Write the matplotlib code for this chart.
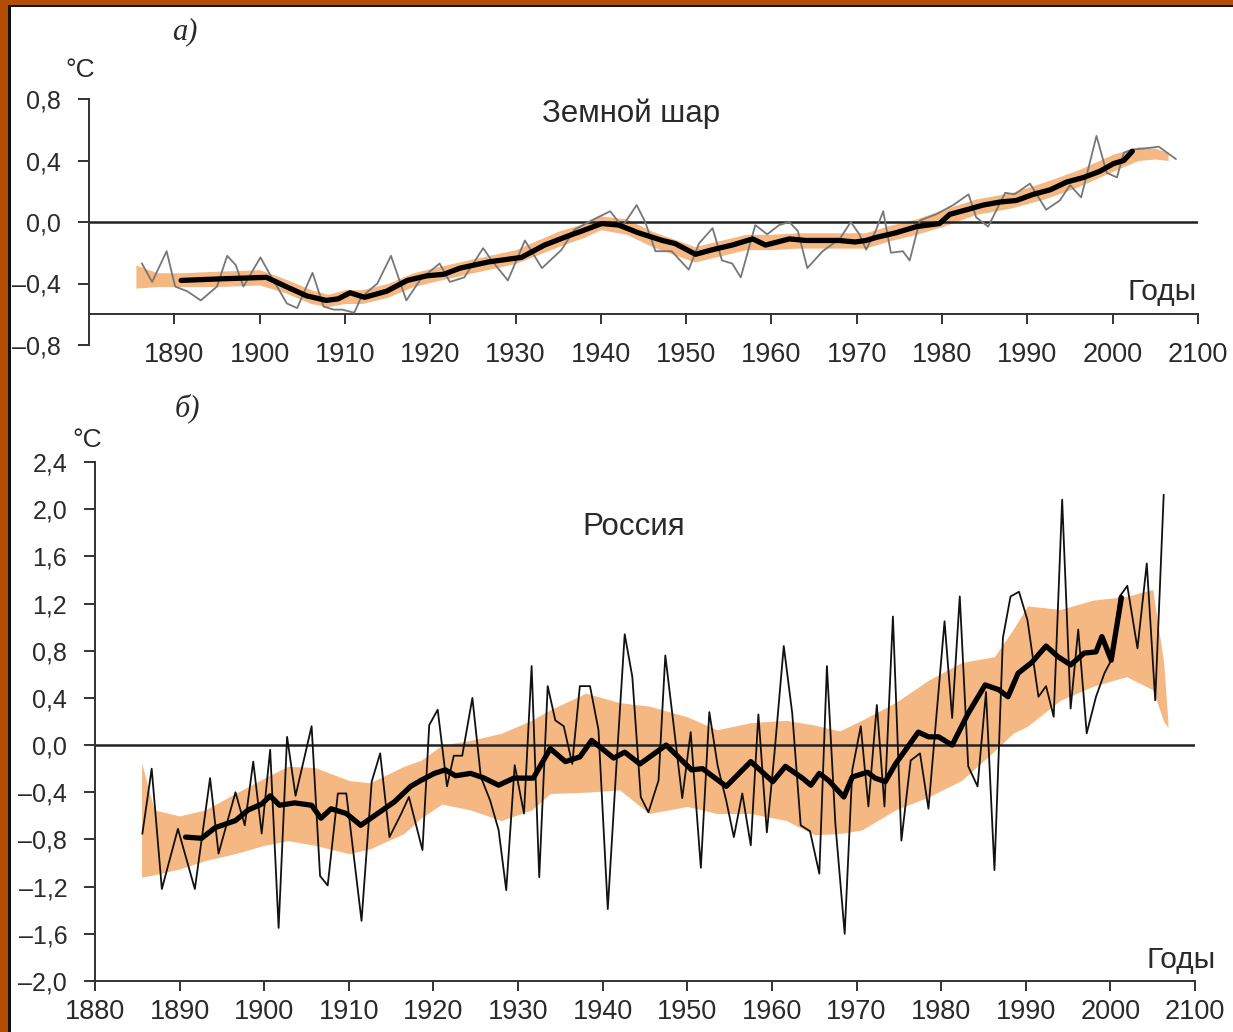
import matplotlib.pyplot as plt
from matplotlib.patches import Rectangle

# --- Земной шар: годовые значения (тонкая серая линия) ---
glob_years = [1886.2, 1887.4, 1889.1, 1890.1, 1891.5, 1893.1, 1895.0, 1896.2, 1897.2, 1898.1,
              1900.1, 1901.1, 1903.2, 1904.4, 1906.2, 1907.5, 1908.7, 1909.7, 1911.1, 1911.9,
              1913.8, 1915.4, 1917.2, 1918.9, 1921.1, 1922.3, 1924.0, 1926.2, 1927.2, 1929.1,
              1931.1, 1933.1, 1935.4, 1936.9, 1938.9, 1941.1, 1942.5, 1944.2, 1945.2, 1946.4,
              1948.3, 1950.3, 1951.5, 1953.1, 1954.2, 1955.4, 1956.4, 1958.1, 1959.5, 1960.9,
              1962.1, 1963.1, 1964.2, 1966.0, 1968.0, 1969.3, 1970.3, 1971.1, 1972.2, 1973.1,
              1974.0, 1975.4, 1976.2, 1977.4, 1979.3, 1981.3, 1983.1, 1984.0, 1985.4, 1987.4,
              1988.5, 1990.3, 1992.2, 1993.8, 1995.0, 1996.3, 1998.1, 1999.3, 2000.5, 2001.3,
              2002.2, 2004.0, 2005.4, 2007.4]
glob_vals = [-0.27, -0.39, -0.19, -0.42, -0.45, -0.51, -0.42, -0.22, -0.28, -0.42,
             -0.23, -0.33, -0.53, -0.56, -0.33, -0.55, -0.57, -0.57, -0.59, -0.49,
             -0.40, -0.22, -0.51, -0.37, -0.27, -0.39, -0.36, -0.17, -0.25, -0.38,
             -0.12, -0.30, -0.18, -0.05, 0.01, 0.07, -0.03, 0.11, 0.0, -0.19,
             -0.19, -0.31, -0.14, -0.04, -0.25, -0.27, -0.36, -0.02, -0.08, -0.02,
             0.0, -0.06, -0.30, -0.19, -0.11, 0.0, -0.08, -0.18, -0.06, 0.07,
             -0.20, -0.19, -0.25, 0.01, 0.05, 0.11, 0.18, 0.03, -0.03, 0.19,
             0.18, 0.25, 0.08, 0.14, 0.24, 0.16, 0.56, 0.32, 0.29, 0.45,
             0.47, 0.48, 0.49, 0.41]

# сглаженная кривая (жирная)
glob_sm_years = [1890.8, 1895.3, 1900.8, 1903.1, 1905.5, 1907.8, 1909.2, 1910.6, 1912.3, 1914.9,
                 1917.3, 1919.6, 1921.6, 1923.5, 1926.8, 1930.7, 1933.4, 1936.2, 1937.7, 1940.1,
                 1942.1, 1944.4, 1947.2, 1948.7, 1951.1, 1953.1, 1955.4, 1957.8, 1959.3, 1962.1,
                 1964.0, 1967.9, 1969.8, 1971.1, 1972.3, 1974.6, 1977.0, 1979.7, 1980.9, 1982.9,
                 1984.8, 1986.8, 1988.7, 1990.7, 1992.7, 1994.6, 1996.6, 1998.5, 2000.1, 2001.3,
                 2002.3]
glob_sm_vals = [-0.38, -0.37, -0.36, -0.42, -0.48, -0.51, -0.50, -0.46, -0.49, -0.45,
                -0.38, -0.35, -0.34, -0.30, -0.26, -0.23, -0.15, -0.09, -0.06, -0.01,
                -0.02, -0.07, -0.12, -0.14, -0.21, -0.18, -0.15, -0.11, -0.15, -0.11,
                -0.12, -0.12, -0.13, -0.12, -0.10, -0.07, -0.03, -0.01, 0.05, 0.08,
                0.11, 0.13, 0.14, 0.18, 0.21, 0.26, 0.29, 0.33, 0.38, 0.40,
                0.46]

# доверительная полоса (оранжевая)
glob_band_years = [1885.5, 1888, 1891, 1895, 1900, 1903, 1906, 1908, 1910, 1912,
                   1915, 1918, 1921, 1925, 1930, 1935, 1938, 1940, 1943, 1946,
                   1949, 1951, 1954, 1957, 1960, 1963, 1967, 1971, 1974, 1977,
                   1980, 1984, 1988, 1992, 1996, 2000, 2003, 2005, 2006.5]
glob_band_lo = [-0.43, -0.42, -0.42, -0.42, -0.41, -0.46, -0.53, -0.55, -0.53, -0.53,
                -0.49, -0.42, -0.38, -0.33, -0.27, -0.16, -0.10, -0.05, -0.08, -0.16,
                -0.22, -0.26, -0.22, -0.18, -0.18, -0.17, -0.17, -0.17, -0.12, -0.08,
                -0.03, 0.05, 0.09, 0.15, 0.23, 0.33, 0.40, 0.41, 0.40]
glob_band_hi = [-0.28, -0.33, -0.33, -0.32, -0.31, -0.37, -0.44, -0.47, -0.44, -0.44,
                -0.40, -0.33, -0.29, -0.24, -0.18, -0.06, -0.01, 0.04, 0.02, -0.06,
                -0.12, -0.16, -0.12, -0.08, -0.08, -0.07, -0.07, -0.07, -0.02, 0.02,
                0.08, 0.15, 0.19, 0.26, 0.34, 0.44, 0.49, 0.48, 0.45]

# --- Россия: годовые значения ---
rus_years = [1885.6, 1886.7, 1887.9, 1889.8, 1891.8, 1893.6, 1894.6, 1896.6, 1897.7, 1898.7,
             1899.7, 1900.7, 1901.7, 1902.7, 1903.7, 1905.6, 1906.6, 1907.5, 1908.7, 1909.7,
             1911.5, 1912.7, 1913.7, 1914.8, 1916.2, 1917.1, 1918.7, 1919.5, 1920.5, 1921.6,
             1922.4, 1923.4, 1924.6, 1925.6, 1926.7, 1927.7, 1928.6, 1929.6, 1930.7, 1931.6,
             1932.5, 1933.5, 1934.4, 1935.4, 1936.4, 1937.3, 1938.5, 1939.5, 1940.6, 1941.6,
             1942.6, 1943.5, 1944.5, 1945.4, 1946.6, 1947.4, 1948.4, 1949.4, 1950.4, 1951.6,
             1952.6, 1953.6, 1954.6, 1955.5, 1956.5, 1957.5, 1958.4, 1959.4, 1960.3, 1961.4,
             1962.4, 1963.4, 1964.5, 1965.6, 1966.5, 1967.5, 1968.6, 1969.5, 1970.5, 1971.4,
             1972.4, 1973.3, 1974.3, 1975.3, 1976.4, 1977.5, 1978.5, 1980.4, 1981.3, 1982.2,
             1983.2, 1984.3, 1985.3, 1986.3, 1987.3, 1988.2, 1989.2, 1990.2, 1991.5, 1992.4,
             1993.3, 1994.3, 1995.3, 1996.2, 1997.2, 1998.3, 1999.3, 2000.1, 2001.1, 2002.0,
             2003.2, 2004.3, 2005.3, 2006.3]
rus_vals = [-0.75, -0.20, -1.22, -0.71, -1.22, -0.28, -0.92, -0.40, -0.68, -0.14,
            -0.75, -0.04, -1.55, 0.07, -0.43, 0.16, -1.11, -1.19, -0.41, -0.41,
            -1.49, -0.31, -0.07, -0.78, -0.58, -0.44, -0.89, 0.17, 0.30, -0.35,
            -0.09, -0.09, 0.40, -0.27, -0.47, -0.72, -1.23, -0.17, -0.58, 0.67,
            -1.12, 0.50, 0.21, 0.16, -0.16, 0.50, 0.50, 0.13, -1.39, -0.20,
            0.94, 0.58, -0.44, -0.57, -0.30, 0.76, 0.16, -0.45, 0.11, -1.04,
            0.28, -0.18, -0.47, -0.78, -0.41, -0.85, 0.26, -0.74, -0.07, 0.84,
            0.27, -0.68, -0.73, -1.09, 0.67, -0.67, -1.60, -0.21, 0.16, -0.52,
            0.34, -0.52, 1.09, -0.81, -0.13, -0.07, -0.54, 1.05, 0.23, 1.26,
            -0.18, -0.35, 0.45, -1.06, 0.91, 1.26, 1.30, 1.06, 0.41, 0.50,
            0.24, 2.08, 0.31, 0.98, 0.10, 0.41, 0.61, 0.72, 1.26, 1.35,
            0.82, 1.54, 0.38, 2.12]

rus_sm_years = [1890.7, 1892.6, 1894.2, 1896.6, 1898.1, 1899.7, 1900.7, 1901.8, 1903.6, 1905.6,
                1906.7, 1907.9, 1909.7, 1911.4, 1913.4, 1915.4, 1917.3, 1918.5, 1920.1, 1921.4,
                1922.6, 1924.4, 1926.0, 1927.7, 1929.5, 1931.8, 1933.8, 1935.6, 1937.3, 1938.7,
                1941.3, 1942.6, 1944.4, 1947.5, 1950.5, 1951.8, 1954.6, 1957.5, 1960.1, 1961.6,
                1963.6, 1964.6, 1965.6, 1966.7, 1968.5, 1969.5, 1971.3, 1972.2, 1973.4, 1974.6,
                1975.8, 1977.3, 1978.5, 1979.7, 1981.3, 1983.2, 1985.2, 1986.8, 1987.9, 1989.1,
                1990.7, 1992.4, 1993.8, 1995.3, 1996.9, 1998.3, 1999.0, 2000.1, 2001.3]
rus_sm_vals = [-0.78, -0.79, -0.70, -0.64, -0.55, -0.50, -0.43, -0.51, -0.49, -0.51,
               -0.62, -0.54, -0.58, -0.68, -0.58, -0.48, -0.35, -0.30, -0.24, -0.21,
               -0.26, -0.24, -0.28, -0.34, -0.28, -0.28, -0.03, -0.14, -0.10, 0.04,
               -0.11, -0.06, -0.16, 0.00, -0.21, -0.20, -0.35, -0.14, -0.31, -0.18,
               -0.28, -0.34, -0.24, -0.30, -0.44, -0.27, -0.23, -0.28, -0.31, -0.16,
               -0.04, 0.11, 0.07, 0.07, 0.00, 0.27, 0.51, 0.47, 0.41, 0.61,
               0.70, 0.84, 0.75, 0.68, 0.78, 0.79, 0.92, 0.72, 1.25]

rus_band_years = [1885.5, 1887, 1890, 1893, 1896.6, 1900, 1902.8, 1906, 1910, 1912.5,
                  1916.5, 1918.5, 1921, 1924.4, 1928, 1931.6, 1933.8, 1938, 1942, 1945.5,
                  1950, 1953.5, 1957.5, 1961.7, 1965, 1968, 1970.6, 1974.6, 1978.5, 1982.4,
                  1986.3, 1988.5, 1990.2, 1994.1, 1998, 2001.9, 2005, 2006.3, 2006.8]
rus_band_lo = [-1.12, -1.10, -1.05, -0.98, -0.92, -0.85, -0.81, -0.85, -0.92, -0.88,
               -0.75, -0.62, -0.50, -0.55, -0.64, -0.55, -0.41, -0.40, -0.38, -0.58,
               -0.52, -0.58, -0.58, -0.64, -0.76, -0.75, -0.72, -0.55, -0.44, -0.30,
               -0.05, 0.10, 0.16, 0.38, 0.50, 0.58, 0.47, 0.20, 0.15]
rus_band_hi = [-0.15, -0.55, -0.60, -0.55, -0.41, -0.28, -0.18, -0.19, -0.30, -0.32,
               -0.18, -0.13, 0.00, 0.04, 0.10, 0.21, 0.30, 0.44, 0.36, 0.33,
               0.24, 0.13, 0.19, 0.21, 0.17, 0.12, 0.21, 0.36, 0.55, 0.70,
               0.75, 0.98, 1.18, 1.15, 1.23, 1.26, 1.32, 0.70, 0.20]

# подписи осей
top_yticks = [-0.8, -0.4, 0.0, 0.4, 0.8]
top_ylabels = ['–0,8', '–0,4', '0,0', '0,4', '0,8']
bot_yticks = [-2.0, -1.6, -1.2, -0.8, -0.4, 0.0, 0.4, 0.8, 1.2, 1.6, 2.0, 2.4]
bot_ylabels = ['–2,0', '–1,6', '–1,2', '–0,8', '–0,4', '0,0', '0,4', '0,8', '1,2', '1,6', '2,0', '2,4']
top_xticks = [1890, 1900, 1910, 1920, 1930, 1940, 1950, 1960, 1970, 1980, 1990, 2000, 2010]
top_xlabels = ['1890', '1900', '1910', '1920', '1930', '1940', '1950', '1960', '1970',
               '1980', '1990', '2000', '2100']
bot_xticks = [1880] + top_xticks
bot_xlabels = ['1880'] + top_xlabels

BAND = '#F6B883'
TXT = '#2a2a2a'
plt.rcParams['font.family'] = ['Liberation Sans', 'DejaVu Sans']

fig = plt.figure(figsize=(12.33, 10.32), dpi=100)
fig.patch.set_facecolor('#B34D04')
# белое поле с чёрной кромкой (под осями)
fig.patches.append(Rectangle((8 / 1233, -0.1), 1.2, 1.1 - 5 / 1032, transform=fig.transFigure,
                             facecolor='#111111', edgecolor='none', zorder=-10))
fig.patches.append(Rectangle((10.5 / 1233, -0.1), 1.2, 1.1 - 7.5 / 1032, transform=fig.transFigure,
                             facecolor='white', edgecolor='none', zorder=-9))


def style_axes(ax, yticks, ylabels, xticks, xlabels, xpad):
    ax.set_facecolor('none')
    ax.spines['top'].set_visible(False)
    ax.spines['right'].set_visible(False)
    for s in ('left', 'bottom'):
        ax.spines[s].set_linewidth(1.4)
        ax.spines[s].set_color('#333333')
    ax.set_yticks(yticks)
    ax.set_yticklabels(ylabels)
    ax.set_xticks(xticks)
    ax.set_xticklabels(xlabels)
    ax.tick_params(axis='y', length=8, width=1.4, color='#333333', labelsize=18,
                   labelcolor=TXT, pad=12)
    ax.tick_params(axis='x', length=7, width=1.4, color='#333333', labelsize=19.5,
                   labelcolor=TXT, pad=xpad)


# ---------- а) Земной шар ----------
ax1 = fig.add_axes([89 / 1233, 1 - 345 / 1032, 1109 / 1233, 246 / 1032])
ax1.fill_between(glob_band_years, glob_band_lo, glob_band_hi, color=BAND, lw=0, zorder=1)
ax1.axhline(0, color='#222222', lw=1.8, zorder=2)
ax1.plot(glob_years, glob_vals, color='#777777', lw=1.3, zorder=3)
ax1.plot(glob_sm_years, glob_sm_vals, color='black', lw=3.8, zorder=4,
         solid_capstyle='round', solid_joinstyle='round')
ax1.set_xlim(1880, 2010)
ax1.set_ylim(-0.8, 0.8)
ax1.spines['bottom'].set_position(('data', -0.6))
style_axes(ax1, top_yticks, top_ylabels, top_xticks, top_xlabels, 13)
ax1.text(0.489, 0.94, 'Земной шар', transform=ax1.transAxes, ha='center', va='center',
         fontsize=22.5, color=TXT)
ax1.text(2009.8, -0.455, 'Годы', ha='right', va='center', fontsize=21.5, color=TXT)

# ---------- б) Россия ----------
ax2 = fig.add_axes([95 / 1233, 1 - 981 / 1032, 1100 / 1233, 519 / 1032])
ax2.fill_between(rus_band_years, rus_band_lo, rus_band_hi, color=BAND, lw=0, zorder=1)
ax2.axhline(0, color='#222222', lw=1.8, zorder=2)
ax2.plot(rus_years, rus_vals, color='#111111', lw=1.3, zorder=3)
ax2.plot(rus_sm_years, rus_sm_vals, color='black', lw=3.8, zorder=4,
         solid_capstyle='round', solid_joinstyle='round')
ax2.set_xlim(1880, 2010)
ax2.set_ylim(-2.0, 2.4)
style_axes(ax2, bot_yticks, bot_ylabels, bot_xticks, bot_xlabels, 6)
ax2.text(0.49, 0.875, 'Россия', transform=ax2.transAxes, ha='center', va='center',
         fontsize=22.5, color=TXT)
ax2.text(2012.4, -1.82, 'Годы', ha='right', va='center', fontsize=21.5, color=TXT,
         clip_on=False)

# подписи панелей и единиц
fig.text(185 / 1233, 1 - 32 / 1032, 'а)', fontsize=22, style='italic', ha='center', va='center',
         family=['Liberation Serif', 'DejaVu Serif'], color=TXT)
fig.text(187 / 1233, 1 - 408 / 1032, 'б)', fontsize=22, style='italic', ha='center', va='center',
         family=['Liberation Serif', 'DejaVu Serif'], color=TXT)
fig.text(80 / 1233, 1 - 70 / 1032, '°C', fontsize=19, ha='center', va='center', color=TXT)
fig.text(87 / 1233, 1 - 440 / 1032, '°C', fontsize=19, ha='center', va='center', color=TXT)

plt.savefig('out.png', dpi=100, facecolor=fig.get_facecolor())
plt.close()
